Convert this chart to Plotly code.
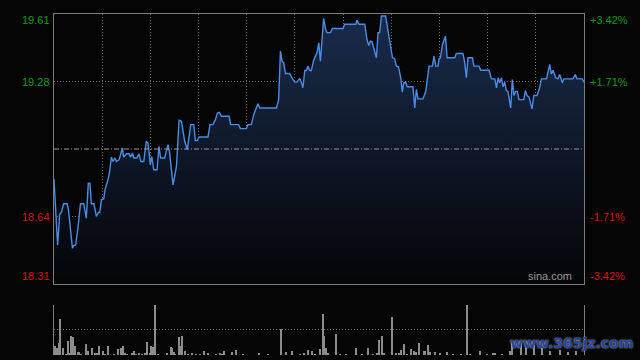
import plotly.graph_objects as go

# ---------------- data ----------------
prev_close = 18.96
pct_levels = [3.42, 1.71, -1.71, -3.42]
session_minutes = 264
grid_step = 24

minutes = [
    0, 1.8, 2.8, 3.8, 4.8, 6.5, 7.2, 8.2, 9.2, 9.8,
    10.8, 12.0, 13.2, 14.8, 16.1, 17.1, 17.9, 18.6, 19.9, 21.1,
    22.1, 22.8, 23.6, 24.8, 25.4, 26.9, 27.7, 28.6, 29.4, 30.4,
    31.1, 32.4, 33.4, 34.1, 34.7, 36.1, 37.4, 38.1, 39.1, 39.7,
    41.3, 42.3, 43.3, 44.7, 46.0, 46.8, 48.0, 48.7, 49.7, 51.3,
    52.3, 53.1, 55.1, 56.8, 57.6, 59.3, 61.0, 62.3, 63.5, 65.1,
    66.4, 67.6, 68.1, 69.6, 70.4, 71.4, 72.2, 76.7, 77.7, 79.2,
    80.4, 81.4, 82.4, 83.4, 87.2, 88.0, 92.0, 92.8, 95.8, 96.6,
    98.3, 99.5, 100.8, 101.6, 102.5, 110.8, 111.9, 112.8, 113.6, 114.4,
    115.3, 117.4, 118.5, 119.9, 121.0, 122.4, 123.2, 124.0, 124.9, 125.7,
    126.5, 127.4, 128.2, 129.2, 130.2, 131.0, 131.9, 132.7, 134.3, 135.3,
    136.0, 137.7, 138.7, 144.0, 144.8, 150.3, 150.9, 151.9, 154.8, 155.9,
    156.8, 157.6, 158.4, 159.8, 160.6, 161.4, 162.2, 163.1, 165.2, 166.4,
    167.6, 168.6, 169.6, 170.6, 171.6, 172.7, 173.5, 174.2, 175.2, 176.0,
    178.8, 179.7, 180.5, 181.3, 183.8, 185.2, 186.8, 188.5, 189.3, 190.2,
    191.3, 191.8, 192.5, 193.5, 195.0, 195.8, 199.6, 200.4, 203.7, 204.6,
    205.4, 206.2, 208.4, 209.2, 211.7, 212.6, 216.7, 217.9, 219.6, 220.4,
    221.2, 222.0, 222.9, 223.7, 224.5, 225.3, 226.1, 227.5, 228.3, 229.1,
    230.0, 230.8, 231.6, 234.0, 234.8, 235.6, 236.6, 238.1, 239.0, 240.6,
    241.9, 242.8, 245.3, 246.1, 246.9, 247.7, 248.6, 249.9, 251.0, 251.9,
    253.2, 254.0, 258.5, 259.7, 260.5, 263.2, 264.0,
]

prices = [
    18.816, 18.499, 18.644, 18.660, 18.697, 18.697, 18.668, 18.557, 18.483, 18.496,
    18.499, 18.587, 18.697, 18.697, 18.628, 18.796, 18.796, 18.697, 18.697, 18.636,
    18.655, 18.655, 18.716, 18.721, 18.764, 18.812, 18.852, 18.921, 18.900, 18.917,
    18.900, 18.908, 18.941, 18.965, 18.921, 18.937, 18.937, 18.921, 18.941, 18.917,
    18.917, 18.937, 18.900, 18.900, 18.997, 18.989, 18.884, 18.924, 18.860, 18.860,
    18.973, 18.917, 18.917, 18.981, 18.941, 18.788, 18.876, 19.098, 19.093, 18.997,
    18.957, 19.029, 19.077, 19.077, 19.000, 19.000, 19.018, 19.018, 19.077, 19.077,
    19.101, 19.133, 19.136, 19.117, 19.117, 19.077, 19.077, 19.058, 19.058, 19.077,
    19.077, 19.125, 19.160, 19.177, 19.157, 19.157, 19.197, 19.430, 19.382, 19.374,
    19.323, 19.323, 19.302, 19.281, 19.281, 19.299, 19.281, 19.254, 19.337, 19.337,
    19.358, 19.337, 19.337, 19.382, 19.406, 19.422, 19.470, 19.382, 19.587, 19.534,
    19.519, 19.519, 19.539, 19.539, 19.559, 19.559, 19.579, 19.559, 19.559, 19.486,
    19.457, 19.478, 19.475, 19.422, 19.398, 19.519, 19.519, 19.599, 19.599, 19.526,
    19.454, 19.398, 19.395, 19.358, 19.355, 19.302, 19.233, 19.278, 19.281, 19.259,
    19.259, 19.157, 19.246, 19.201, 19.201, 19.237, 19.358, 19.358, 19.406, 19.358,
    19.358, 19.393, 19.398, 19.462, 19.502, 19.398, 19.398, 19.419, 19.419, 19.374,
    19.302, 19.398, 19.398, 19.358, 19.358, 19.338, 19.338, 19.297, 19.297, 19.254,
    19.302, 19.278, 19.302, 19.259, 19.281, 19.241, 19.237, 19.157, 19.294, 19.217,
    19.237, 19.237, 19.197, 19.197, 19.241, 19.217, 19.210, 19.153, 19.217, 19.217,
    19.254, 19.297, 19.297, 19.326, 19.366, 19.321, 19.338, 19.302, 19.297, 19.318,
    19.278, 19.297, 19.297, 19.318, 19.297, 19.297, 19.281,
]

vol_minutes = [
    0.3, 1.3, 2.3, 3.0, 4.5, 5.8, 6.8, 7.8, 8.5, 9.3,
    10.5, 11.8, 12.5, 13.4, 15.9, 17.1, 18.9, 20.3, 21.3, 22.4,
    24.4, 25.6, 26.9, 29.9, 31.9, 33.4, 34.4, 35.4, 36.4, 38.7,
    39.8, 41.0, 42.3, 43.7, 45.5, 46.3, 48.0, 48.5, 49.5, 50.3,
    52.0, 56.5, 58.1, 58.8, 59.6, 60.5, 62.3, 62.8, 63.8, 65.3,
    66.7, 68.7, 70.9, 72.9, 74.6, 76.7, 80.9, 82.5, 83.5, 84.7,
    88.7, 90.7, 94.1, 102.1, 106.8, 112.9, 115.4, 118.4, 122.4, 124.4,
    126.5, 128.4, 130.0, 132.5, 134.0, 134.5, 135.5, 136.5, 140.5, 142.7,
    145.6, 150.4, 153.4, 156.4, 158.9, 160.9, 161.9, 163.4, 164.4, 168.4,
    170.4, 171.8, 172.8, 174.3, 175.8, 177.8, 179.3, 180.3, 181.8, 184.3,
    184.8, 186.3, 187.3, 189.8, 192.3, 195.8, 198.7, 202.9, 205.7, 207.4,
    212.4, 215.7, 218.7, 219.9, 223.2, 226.9, 228.3, 232.6, 235.3, 239.0,
    243.0, 247.0, 252.0, 256.0, 260.0,
]

volumes = [
    19, 15, 25, 73, 15, 3, 29, 5, 39, 37,
    19, 7, 7, 3, 23, 9, 15, 5, 5, 19,
    9, 3, 19, 3, 13, 15, 19, 4, 3, 5,
    9, 3, 4, 3, 5, 27, 5, 19, 17, 100,
    3, 5, 17, 15, 7, 3, 37, 19, 39, 9,
    3, 5, 3, 3, 9, 5, 3, 5, 3, 9,
    7, 11, 3, 5, 3, 53, 7, 9, 3, 5,
    11, 9, 3, 13, 83, 39, 15, 5, 43, 3,
    3, 15, 3, 15, 3, 5, 31, 39, 5, 77,
    5, 5, 11, 23, 3, 13, 9, 7, 25, 9,
    9, 21, 7, 7, 5, 7, 3, 3, 100, 3,
    9, 3, 5, 5, 3, 9, 31, 29, 29, 21,
    15, 9, 11, 7, 9,
]

# ---------------- derived levels ----------------
levels = [prev_close * (1 + p / 100) for p in pct_levels]
top, bottom = levels[0], levels[-1]

BG = "#050505"
GRID = "#6f6f6f"
FRAME = "#7c7c7c"
GREEN = "#0c9a0c"
RED = "#d8140c"
FONT = "Liberation Sans, Arial, sans-serif"

fig = go.Figure()

fig.add_trace(go.Scatter(
    x=minutes, y=prices, mode="lines",
    line=dict(color="#4a8ce6", width=1.4, shape="linear"),
    fill="tozeroy",
    fillgradient=dict(type="vertical", start=bottom, stop=top,
                      colorscale=[[0, "#040506"], [0.5, "#0e1829"], [1, "#1a2c4c"]]),
    hoverinfo="skip", xaxis="x", yaxis="y",
))

fig.add_trace(go.Bar(
    x=vol_minutes, y=volumes, width=0.5,
    marker=dict(color="#8c8c8c", line=dict(width=0)),
    hoverinfo="skip", xaxis="x2", yaxis="y2",
))

fig.add_shape(type="line", xref="x", yref="y", x0=0, x1=session_minutes,
              y0=prev_close, y1=prev_close,
              line=dict(color="#9a9a9a", width=1, dash="5px,2px,1px,2px"))

# price labels (left) and percent labels (right)
for i, (lvl, pct) in enumerate(zip(levels, pct_levels)):
    col = GREEN if pct > 0 else RED
    if i == 0:
        ya, ys = "top", 2
    elif i == len(levels) - 1:
        ya, ys = "bottom", 0
    else:
        ya, ys = "middle", 0
    fig.add_annotation(x=0, xref="paper", y=lvl, yref="y", text=f"{lvl:.2f}",
                       showarrow=False, xanchor="right", yanchor=ya, xshift=-2, yshift=ys,
                       font=dict(family=FONT, size=11, color=col))
    fig.add_annotation(x=1, xref="paper", y=lvl, yref="y", text=f"{pct:+.2f}%",
                       showarrow=False, xanchor="left", yanchor=ya, xshift=4, yshift=ys,
                       font=dict(family=FONT, size=11, color=col))

fig.add_annotation(x=0.982, xref="paper", y=0, yref="y domain", text="sina.com",
                   showarrow=False, xanchor="right", yanchor="bottom",
                   font=dict(family=FONT, size=11, color="#9a9a9a"))

fig.add_annotation(x=1.096, xref="paper", y=0.005, yref="paper", text="<b>www.365jz.com</b>",
                   showarrow=False, xanchor="right", yanchor="bottom",
                   font=dict(family="DejaVu Sans, sans-serif", size=14, color="#24469a",
                             shadow="0px 0px 2px #d0d0d0"))

axis_common = dict(showticklabels=False, ticks="", zeroline=False)

fig.update_layout(
    width=640, height=360,
    margin=dict(l=54, r=56, t=14, b=5),
    paper_bgcolor=BG, plot_bgcolor=BG,
    showlegend=False,
    xaxis=dict(domain=[0, 1], range=[0, session_minutes],
               tickvals=list(range(grid_step, session_minutes, grid_step)),
               showgrid=True, gridcolor=GRID, gridwidth=1, griddash="1px,2px",
               showline=True, mirror=True, linecolor=FRAME, linewidth=1,
               **axis_common),
    yaxis=dict(domain=[0.2082, 1], range=[bottom, top],
               tickvals=[levels[1], levels[2]],
               showgrid=True, gridcolor=GRID, gridwidth=1, griddash="1px,2px",
               showline=True, mirror=True, linecolor=FRAME, linewidth=1,
               **axis_common),
    xaxis2=dict(anchor="y2", domain=[0, 1], range=[0, session_minutes],
                showgrid=False, showline=False, **axis_common),
    yaxis2=dict(anchor="x2", domain=[0, 0.1475], range=[0, 100],
                tickvals=[0, 50, 100],
                showgrid=True, gridcolor=GRID, gridwidth=1, griddash="1px,2px",
                showline=True, mirror=True, linecolor=FRAME, linewidth=1,
                **axis_common),
    bargap=0,
)

fig.write_html("out.html", config={"displayModeBar": False},
               post_script="document.body.style.margin='0';document.body.style.background='#050505';")
